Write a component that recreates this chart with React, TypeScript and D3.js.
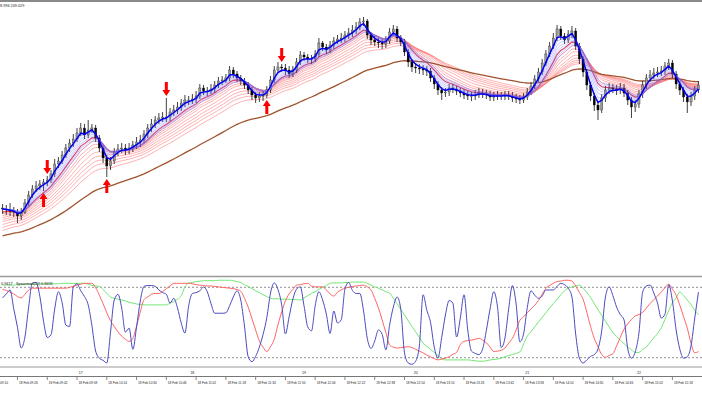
import * as d3 from "d3";

// 2-minute bars starting 18 Feb 09:18
const closes = [
  207.79, 207.78, 207.77, 207.76, 207.72, 207.76, 207.85, 207.93, 207.99, 208.02,
  208.04, 208.06, 208.08, 208.14, 208.24, 208.27, 208.33, 208.40, 208.45, 208.49,
  208.55, 208.60, 208.53, 208.58, 208.60, 208.50, 208.40, 208.30, 208.22, 208.27,
  208.36, 208.39, 208.40, 208.38, 208.40, 208.43, 208.46, 208.48, 208.54, 208.60,
  208.64, 208.68, 208.70, 208.71, 208.71, 208.76, 208.78, 208.81, 208.85, 208.88,
  208.88, 208.89, 208.92, 209.00, 208.97, 208.97, 208.99, 209.03, 209.07, 209.08,
  209.10, 209.18, 209.14, 209.10, 209.07, 209.03, 208.98, 208.93, 208.90, 208.92,
  208.93, 208.98, 209.08, 209.18, 209.21, 209.20, 209.18, 209.14, 209.18, 209.26,
  209.33, 209.31, 209.29, 209.29, 209.34, 209.45, 209.41, 209.38, 209.43, 209.47,
  209.49, 209.50, 209.53, 209.55, 209.58, 209.61, 209.66, 209.67, 209.53, 209.48,
  209.46, 209.45, 209.44, 209.47, 209.56, 209.59, 209.50, 209.46, 209.36, 209.26,
  209.21, 209.20, 209.19, 209.18, 209.17, 209.10, 209.04, 208.98, 208.95, 208.96,
  209.00, 208.99, 208.97, 208.95, 208.93, 208.92, 208.92, 208.93, 208.95, 208.94,
  208.93, 208.91, 208.92, 208.92, 208.92, 208.93, 208.92, 208.90, 208.89, 208.88,
  208.91, 208.96, 209.02, 209.09, 209.16, 209.25, 209.34, 209.42, 209.50, 209.59,
  209.52, 209.48, 209.54, 209.57, 209.42, 209.29, 209.16, 209.03, 208.92, 208.83,
  208.78, 208.90, 208.98, 209.00, 208.99, 208.98, 209.00, 208.95, 208.88, 208.81,
  208.84, 208.94, 209.03, 209.10, 209.13, 209.15, 209.16, 209.17, 209.22, 209.25,
  209.14, 209.04, 208.98, 208.91, 208.86, 208.92, 208.98, 209.03,
];
const highs = [
  207.84, 207.83, 207.85, 207.81, 207.79, 207.80, 207.89, 207.97, 208.03, 208.07,
  208.08, 208.09, 208.12, 208.18, 208.29, 208.31, 208.37, 208.44, 208.49, 208.54,
  208.60, 208.65, 208.64, 208.68, 208.64, 208.63, 208.53, 208.43, 208.33, 208.31,
  208.40, 208.44, 208.45, 208.44, 208.45, 208.47, 208.51, 208.53, 208.58, 208.64,
  208.69, 208.72, 208.75, 208.76, 208.90, 208.80, 208.83, 208.86, 208.89, 208.93,
  208.92, 208.94, 208.97, 209.04, 209.03, 209.01, 209.04, 209.07, 209.11, 209.12,
  209.14, 209.22, 209.21, 209.17, 209.13, 209.10, 209.06, 209.01, 208.96, 208.96,
  208.97, 209.02, 209.12, 209.22, 209.26, 209.24, 209.24, 209.22, 209.22, 209.30,
  209.37, 209.36, 209.34, 209.33, 209.38, 209.50, 209.47, 209.44, 209.47, 209.51,
  209.53, 209.55, 209.57, 209.60, 209.63, 209.66, 209.70, 209.71, 209.69, 209.56,
  209.52, 209.50, 209.49, 209.52, 209.60, 209.63, 209.62, 209.53, 209.49, 209.39,
  209.29, 209.25, 209.24, 209.23, 209.22, 209.20, 209.13, 209.07, 209.01, 209.00,
  209.04, 209.04, 209.02, 209.00, 208.99, 208.97, 208.96, 208.98, 209.00, 208.99,
  208.98, 208.97, 208.96, 208.97, 208.96, 208.97, 208.97, 208.96, 208.94, 208.93,
  208.95, 209.00, 209.06, 209.13, 209.20, 209.29, 209.38, 209.46, 209.55, 209.63,
  209.62, 209.55, 209.58, 209.62, 209.60, 209.45, 209.32, 209.19, 209.06, 208.95,
  208.86, 208.94, 209.02, 209.05, 209.04, 209.03, 209.05, 209.04, 208.98, 208.91,
  208.88, 208.98, 209.07, 209.14, 209.18, 209.20, 209.21, 209.22, 209.26, 209.29,
  209.28, 209.17, 209.07, 209.01, 208.94, 208.96, 209.02, 209.07,
];
const lows = [
  207.74, 207.73, 207.72, 207.71, 207.65, 207.68, 207.74, 207.82, 207.90, 207.96,
  207.98, 207.97, 208.02, 208.05, 208.11, 208.20, 208.24, 208.30, 208.36, 208.41,
  208.46, 208.52, 208.49, 208.50, 208.55, 208.46, 208.36, 208.25, 208.11, 208.18,
  208.24, 208.32, 208.35, 208.33, 208.34, 208.36, 208.39, 208.41, 208.45, 208.50,
  208.56, 208.60, 208.64, 208.66, 208.66, 208.67, 208.72, 208.74, 208.77, 208.81,
  208.83, 208.84, 208.85, 208.89, 208.93, 208.92, 208.94, 208.95, 209.00, 209.03,
  209.05, 209.07, 209.10, 209.06, 209.03, 208.99, 208.94, 208.88, 208.85, 208.86,
  208.87, 208.90, 208.95, 209.05, 209.15, 209.16, 209.13, 209.10, 209.11, 209.15,
  209.23, 209.27, 209.25, 209.24, 209.26, 209.31, 209.37, 209.34, 209.35, 209.39,
  209.44, 209.45, 209.46, 209.49, 209.51, 209.54, 209.58, 209.62, 209.49, 209.43,
  209.42, 209.40, 209.39, 209.40, 209.44, 209.52, 209.46, 209.42, 209.32, 209.21,
  209.16, 209.15, 209.14, 209.13, 209.12, 209.06, 208.99, 208.93, 208.88, 208.91,
  208.92, 208.95, 208.93, 208.91, 208.89, 208.88, 208.87, 208.88, 208.90, 208.90,
  208.89, 208.87, 208.87, 208.88, 208.88, 208.88, 208.88, 208.86, 208.85, 208.84,
  208.85, 208.88, 208.93, 208.99, 209.06, 209.13, 209.22, 209.31, 209.39, 209.47,
  209.48, 209.44, 209.45, 209.50, 209.38, 209.24, 209.11, 208.98, 208.87, 208.77,
  208.68, 208.75, 208.86, 208.94, 208.95, 208.93, 208.94, 208.91, 208.83, 208.70,
  208.76, 208.80, 208.90, 208.99, 209.06, 209.09, 209.11, 209.12, 209.13, 209.18,
  209.10, 208.99, 208.93, 208.86, 208.75, 208.82, 208.88, 208.95,
];
const firstOpen = 207.8;

// Spearman oscillator, one value per bar
const blueOsc = [
  0.56, 0.65, 0.74, 0.31, -0.11, -0.58, -0.33, 0.35, 0.9, 0.91,
  0.6, 0.03, -0.34, -0.28, 0.31, 0.7, 0.45, -0.06, -0.09, 0.81,
  0.88, 0.72, 0.59, 0.4, -0.07, -0.65, -0.81, -0.86, -0.92, -0.22,
  0.51, 0.64, 0.33, -0.22, -0.13, -0.61, -0.1, 0.49, 0.82, 0.84,
  0.84, 0.82, 0.74, 0.68, 0.64, 0.44, 0.55, 0.33, -0.01, -0.24,
  0.38, 0.66, 0.68, 0.72, 0.81, 0.7, 0.43, 0.21, 0.21, 0.21,
  0.22, 0.38, 0.58, 0.72, 0.51, -0.08, -0.78, -0.89, -0.77, -0.56,
  -0.27, 0.11, 0.67, 0.9, 0.75, 0.4, -0.26, 0.13, 0.53, 0.76,
  0.81, 0.38, -0.1, -0.19, 0.38, 0.7, 0.51, 0.19, -0.25, 0.26,
  -0.01, 0.06, 0.76, 0.91, 0.73, 0.66, 0.66, 0.26, -0.36, -0.59,
  -0.42, -0.17, -0.27, -0.62, -0.06, 0.35, 0.58, 0.31, -0.69, -0.92,
  -0.95, -0.88, -0.53, 0.63, 0.28, 0.0, -0.56, -0.81, -0.34, 0.17,
  0.5, 0.44, -0.33, 0.1, 0.63, -0.17, -0.65, -0.7, -0.73, -0.6,
  -0.18, 0.31, 0.7, 0.35, -0.57, -0.35, 0.31, 0.84, 0.42, -0.44,
  -0.26, 0.34, 0.72, 0.62, 0.55, 0.6, 0.74, 0.74, 0.74, 0.82,
  0.89, 0.86, 0.78, 0.58, -0.26, -0.81, -0.92, -0.85, -0.77, -0.73,
  -0.6, -0.19, 0.58, 0.81, 0.61, 0.35, 0.18, 0.06, -0.6, -0.81,
  -0.67, -0.24, 0.69, 0.83, 0.85, 0.67, 0.44, 0.1, 0.19, 0.86,
  0.49, -0.17, -0.61, -0.81, -0.78, -0.53, 0.1, 0.69,
];
const redOsc = [
  0.75, 0.73, 0.69, 0.65, 0.59, 0.56, 0.64, 0.74, 0.78, 0.78,
  0.78, 0.78, 0.78, 0.78, 0.78, 0.78, 0.78, 0.78, 0.8, 0.82,
  0.85, 0.87, 0.89, 0.89, 0.89, 0.79, 0.62, 0.43, 0.22, 0.04,
  -0.09, -0.21, -0.31, -0.38, -0.43, -0.36, -0.08, 0.24, 0.52, 0.58,
  0.64, 0.66, 0.66, 0.7, 0.77, 0.83, 0.89, 0.89, 0.89, 0.89,
  0.89, 0.88, 0.86, 0.85, 0.84, 0.83, 0.83, 0.82, 0.81, 0.8,
  0.79, 0.78, 0.77, 0.75, 0.71, 0.55, 0.35, 0.09, -0.17, -0.42,
  -0.56, -0.66, -0.55, -0.38, -0.05, 0.24, 0.49, 0.65, 0.75, 0.85,
  0.86, 0.88, 0.89, 0.83, 0.81, 0.81, 0.81, 0.74, 0.65, 0.6,
  0.69, 0.74, 0.78, 0.8, 0.82, 0.83, 0.84, 0.85, 0.81, 0.74,
  0.55, 0.33, 0.06, -0.23, -0.51, -0.56, -0.58, -0.57, -0.56, -0.55,
  -0.57, -0.61, -0.65, -0.69, -0.74, -0.78, -0.82, -0.85, -0.83, -0.81,
  -0.78, -0.72, -0.68, -0.5, -0.43, -0.41, -0.4, -0.38, -0.36, -0.4,
  -0.46, -0.56, -0.66, -0.65, -0.63, -0.58, -0.47, -0.36, -0.17, 0.05,
  0.13, 0.22, 0.31, 0.39, 0.5, 0.64, 0.78, 0.84, 0.89, 0.93,
  0.94, 0.96, 0.96, 0.94, 0.83, 0.68, 0.53, 0.23, -0.09, -0.36,
  -0.55, -0.73, -0.79, -0.75, -0.71, -0.53, -0.34, -0.15, -0.03, 0.07,
  0.15, 0.18, 0.23, 0.33, 0.43, 0.52, 0.6, 0.69, 0.79, 0.87,
  0.76, 0.62, 0.39, 0.13, -0.13, -0.47, -0.69, -0.66,
];
const greenOsc = [
  0.85, 0.85, 0.85, 0.85, 0.86, 0.86, 0.87, 0.87, 0.87, 0.87,
  0.88, 0.88, 0.88, 0.88, 0.88, 0.88, 0.89, 0.89, 0.89, 0.89,
  0.89, 0.89, 0.89, 0.87, 0.84, 0.83, 0.82, 0.75, 0.66, 0.58,
  0.55, 0.53, 0.51, 0.49, 0.46, 0.44, 0.42, 0.41, 0.4, 0.4,
  0.4, 0.4, 0.4, 0.4, 0.4, 0.44, 0.48, 0.53, 0.61, 0.81,
  0.9, 0.91, 0.93, 0.94, 0.95, 0.95, 0.95, 0.95, 0.96, 0.96,
  0.96, 0.96, 0.95, 0.93, 0.91, 0.86, 0.82, 0.77, 0.72, 0.68,
  0.63, 0.59, 0.55, 0.54, 0.54, 0.53, 0.53, 0.53, 0.52, 0.52,
  0.51, 0.56, 0.61, 0.66, 0.7, 0.75, 0.8, 0.84, 0.89, 0.9,
  0.9, 0.9, 0.91, 0.91, 0.92, 0.92, 0.92, 0.92, 0.89, 0.85,
  0.81, 0.78, 0.74, 0.7, 0.67, 0.55, 0.43, 0.3, 0.17, 0.04,
  -0.09, -0.21, -0.34, -0.47, -0.54, -0.61, -0.68, -0.75, -0.83, -0.85,
  -0.85, -0.85, -0.85, -0.85, -0.85, -0.85, -0.86, -0.87, -0.88, -0.88,
  -0.87, -0.85, -0.84, -0.83, -0.81, -0.78, -0.75, -0.73, -0.7, -0.67,
  -0.49, -0.31, -0.21, -0.1, 0.01, 0.12, 0.22, 0.33, 0.43, 0.53,
  0.63, 0.72, 0.78, 0.81, 0.83, 0.85, 0.78, 0.68, 0.57, 0.43,
  0.29, 0.16, 0.03, -0.1, -0.23, -0.32, -0.4, -0.48, -0.56, -0.62,
  -0.68, -0.68, -0.61, -0.56, -0.45, -0.35, -0.25, -0.12, 0.07, 0.27,
  0.45, 0.56, 0.69, 0.61, 0.51, 0.41, 0.28, 0.18,
];

// moving average ribbons
const fastPeriods = [3, 4, 5, 6, 7, 8, 9, 10];
const slowPeriods = [8, 10, 12, 14, 17, 20, 23, 26, 30];
const slowSeeds = [207.75, 207.73, 207.71, 207.69, 207.67, 207.65, 207.62, 207.59, 207.56];
const trendPeriod = 52;
const trendSeed = 207.51;

const buySignals = [11, 28, 71];
const sellSignals = [12, 44, 75];

const timeLabels = [
  "09:10", "09:26", "09:42", "09:58", "10:14", "10:30", "10:46", "11:02",
  "11:18", "11:34", "11:50", "12:06", "12:22", "12:38", "12:54", "13:10",
  "13:26", "13:42", "13:58", "14:14", "14:30", "14:46", "15:02", "15:18",
];
const hourTimes = ["10:00", "11:00", "12:00", "13:00", "14:00", "15:00"];
const hourNames = ["17", "18", "19", "20", "21", "22"];
const levels = [0.8, -0.8];

function ema(values: number[], period: number, seed: number) {
  const a = 2 / (period + 1);
  let e = seed;
  return values.map((v) => (e = e + a * (v - e)));
}

const at = (hm: string) => {
  const [h, m] = hm.split(":").map(Number);
  return new Date(2016, 1, 18, h, m);
};

export default function App() {
  const W = 702;
  const H = 395;
  const font = "'Liberation Sans', Arial, sans-serif";

  const x = d3.scaleTime()
    .domain([new Date(2016, 1, 18, 9, 16, 36), new Date(2016, 1, 18, 15, 33, 54)])
    .range([0, W]);
  const barTimes = closes.map((_, i) => d3.timeMinute.offset(at("09:18"), 2 * i));
  const y = d3.scaleLinear().domain([207.2, 209.88]).range([268, 0]);
  const yo = d3.scaleLinear().domain([-1, 1]).range([366.5, 278.5]);

  const priceLine = d3.line<number>()
    .x((_, i) => x(barTimes[i]))
    .y((d) => y(d));
  const oscLine = d3.line<number>()
    .x((_, i) => x(barTimes[i]))
    .y((d) => yo(d))
    .curve(d3.curveMonotoneX);

  const fast = fastPeriods.map((p) => ema(closes, p, closes[0]));
  const slow = slowPeriods.map((p, k) => ema(closes, p, slowSeeds[k]));
  const trend = ema(closes, trendPeriod, trendSeed);

  const opens = closes.map((c, i) => (i ? closes[i - 1] : firstOpen));

  const arrow = (cx: number, tip: number, dir: number) => {
    const hw = 4, sw = 1.5, hh = 6, len = 14;
    const pts = [
      [cx, tip], [cx - hw, tip + dir * hh], [cx - sw, tip + dir * hh],
      [cx - sw, tip + dir * len], [cx + sw, tip + dir * len],
      [cx + sw, tip + dir * hh], [cx + hw, tip + dir * hh],
    ];
    return "M" + pts.map((p) => p.join(",")).join("L") + "Z";
  };

  return (
    <svg width={W} height={H} style={{ display: "block", background: "#fff" }}>
      <style>{`body{margin:0}`}</style>
      <defs>
        <clipPath id="mainClip"><rect x={0} y={2} width={W} height={273} /></clipPath>
        <clipPath id="oscClip"><rect x={0} y={277.5} width={W} height={89} /></clipPath>
      </defs>

      <line x1={0} x2={W} y1={1} y2={1} stroke="#8a8a8a" strokeWidth={2} />
      <text x={0} y={6.5} fontSize={3.8} fontFamily={font} fill="#222">8.996 209.029</text>

      <g clipPath="url(#mainClip)">
        {slow.map((s, k) => (
          <path key={"s" + k} d={priceLine(s) ?? ""} fill="none"
            stroke={k === 0 ? "#ff2020" : "#ff7a7a"}
            strokeWidth={k === 0 ? 1.1 : 0.65} opacity={0.9} />
        ))}
        <path d={priceLine(trend) ?? ""} fill="none" stroke="#a0522d" strokeWidth={1.3} />

        {closes.map((c, i) => {
          const cx = x(barTimes[i]);
          const o = opens[i];
          const hi = Math.max(highs[i], o, c);
          const lo = Math.min(lows[i], o, c);
          const top = y(Math.max(o, c));
          const bot = y(Math.min(o, c));
          return (
            <g key={"c" + i}>
              <line x1={cx} x2={cx} y1={y(hi)} y2={y(lo)} stroke="#111" strokeWidth={0.8} />
              <rect x={cx - 1.1} y={top} width={2.2} height={Math.max(0.8, bot - top)}
                fill={c >= o ? "#9a9a9a" : "#000"} stroke="#111" strokeWidth={0.3} />
            </g>
          );
        })}

        {fast.slice(1).map((f, k) => (
          <path key={"f" + k} d={priceLine(f) ?? ""} fill="none" stroke="#7070ff"
            strokeWidth={0.6} opacity={0.6} />
        ))}
        <path d={priceLine(fast[0]) ?? ""} fill="none" stroke="#0000ee" strokeWidth={1.5} />

        {buySignals.map((i) => (
          <path key={"b" + i} d={arrow(x(barTimes[i]), y(lows[i]) + 2, 1)} fill="#ff0000" />
        ))}
        {sellSignals.map((i) => (
          <path key={"d" + i} d={arrow(x(barTimes[i]), y(highs[i]) - 2, -1)} fill="#ff0000" />
        ))}
      </g>

      <line x1={0} x2={W} y1={276.5} y2={276.5} stroke="#9a9a9a" strokeWidth={1.5} />

      <g clipPath="url(#oscClip)">
        {levels.map((l) => (
          <line key={l} x1={0} x2={W} y1={yo(l)} y2={yo(l)} stroke="#444"
            strokeWidth={0.6} strokeDasharray="2,2" />
        ))}
        <path d={oscLine(greenOsc) ?? ""} fill="none" stroke="#72e672" strokeWidth={1} />
        <path d={oscLine(redOsc) ?? ""} fill="none" stroke="#ff6464" strokeWidth={1} />
        <path d={oscLine(blueOsc) ?? ""} fill="none" stroke="#4b4bc0" strokeWidth={1} />
      </g>
      <text x={1} y={284.5} fontSize={3.8} fontFamily={font} fill="#222">0.9417</text>
      <text x={16} y={284.5} fontSize={3.8} fontFamily={font} fill="#222">Spearman(32) 0.8431</text>

      <line x1={0} x2={W} y1={367} y2={367} stroke="#9a9a9a" strokeWidth={1} />
      {hourTimes.map((t, k) => (
        <text key={t} x={x(at(t))} y={373.5} fontSize={3.6} fontFamily={font}
          fill="#222" textAnchor="middle">{hourNames[k]}</text>
      ))}
      <line x1={0} x2={W} y1={376.5} y2={376.5} stroke="#777" strokeWidth={1} />
      {timeLabels.map((t) => {
        const tx = x(at(t));
        return (
          <g key={t}>
            <line x1={tx} x2={tx} y1={377} y2={380} stroke="#333" strokeWidth={0.6} />
            <text x={tx + 1.5} y={383.5} fontSize={3.2} fontFamily={font} fill="#222">
              {"18 Feb " + t}
            </text>
          </g>
        );
      })}
    </svg>
  );
}
